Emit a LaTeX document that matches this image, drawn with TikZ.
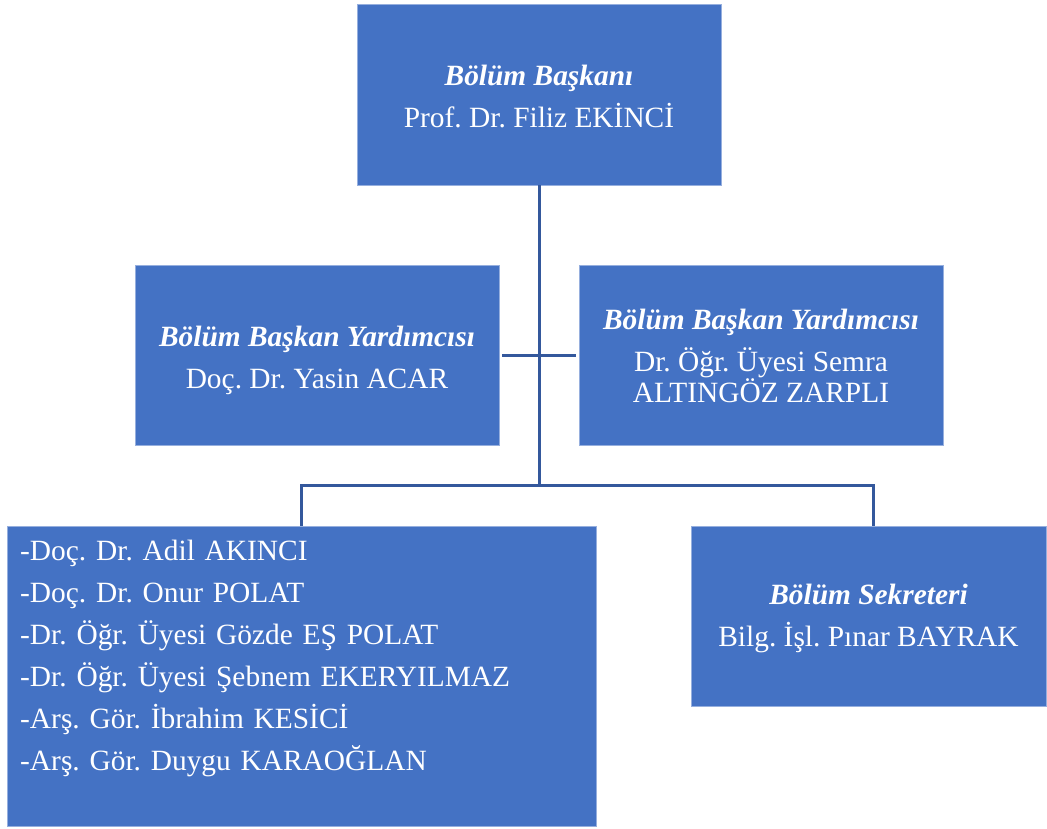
\documentclass[tikz,border=0pt]{standalone}
\usepackage{fontspec}
\setmainfont{Liberation Serif}
\frenchspacing
\definecolor{boxblue}{HTML}{4472C4}
\definecolor{boxedge}{RGB}{150,175,222}
\definecolor{linkblue}{RGB}{52,88,156}
\tikzset{
  orgbox/.style={rectangle, fill=boxblue, draw=boxedge, line width=0.8pt,
    text=white, inner sep=0pt, align=center,
    font=\fontsize{29.4}{42}\selectfont\frenchspacing},
  listtext/.style={text=white, inner sep=0pt, align=left, text width=560pt,
    font=\fontsize{29.4}{42}\selectfont\frenchspacing},
  link/.style={draw=linkblue, line width=3pt},
}
\newcommand{\ttl}[2][31pt]{\rule{0pt}{#1}\textbf{\textit{#2}}}
\newcommand{\lowend}{\vphantom{y}}
\begin{document}
\begin{tikzpicture}[x=1pt,y=-1pt]
\useasboundingbox (0,0) rectangle (1047,828);
% boxes
\node[orgbox, minimum width=364pt, minimum height=181pt] (top) at (539,94.5)
  {\ttl{Bölüm Başkanı}\\Prof. Dr. Filiz EKİNCİ\lowend};
\node[orgbox, minimum width=364pt, minimum height=180pt] (lm) at (317,355)
  {\ttl{Bölüm Başkan Yardımcısı}\\Doç. Dr. Yasin ACAR\lowend};
\node[orgbox, minimum width=364pt, minimum height=180pt,
      font=\fontsize{29.4}{28.5}\selectfont\frenchspacing] (rm) at (761,355)
  {\ttl[29pt]{Bölüm Başkan Yardımcısı}\\[11pt]Dr. Öğr. Üyesi Semra\\ALTINGÖZ ZARPLI\lowend};
\node[orgbox, minimum width=589pt, minimum height=300pt] (bl) at (301.5,676) {};
\node[listtext, anchor=base west] (bltext) at (20,560)
  {-Doç. Dr. Adil AKINCI\\
   -Doç. Dr. Onur POLAT\\
   -Dr. Öğr. Üyesi Gözde EŞ POLAT\\
   -Dr. Öğr. Üyesi Şebnem EKERYILMAZ\\
   -Arş. Gör. İbrahim KESİCİ\\
   -Arş. Gör. Duygu KARAOĞLAN};
\node[orgbox, minimum width=355pt, minimum height=180pt] (br) at (868.5,616)
  {\ttl[25pt]{Bölüm Sekreteri}\\Bilg. İşl. Pınar BAYRAK\lowend};
% connectors
\coordinate (hub) at (539,485);
\coordinate (jl) at (301,485);
\coordinate (jr) at (873,485);
\coordinate (dl) at (301,524);
\coordinate (dr) at (873,524);
\draw[link] (top.south) -- (hub);
\draw[link, shorten <=3pt, shorten >=3pt] (lm.east) -- (rm.west);
\draw[link, line cap=rect] (dl) -- (jl) -- (jr) -- (dr);
\end{tikzpicture}
\end{document}
